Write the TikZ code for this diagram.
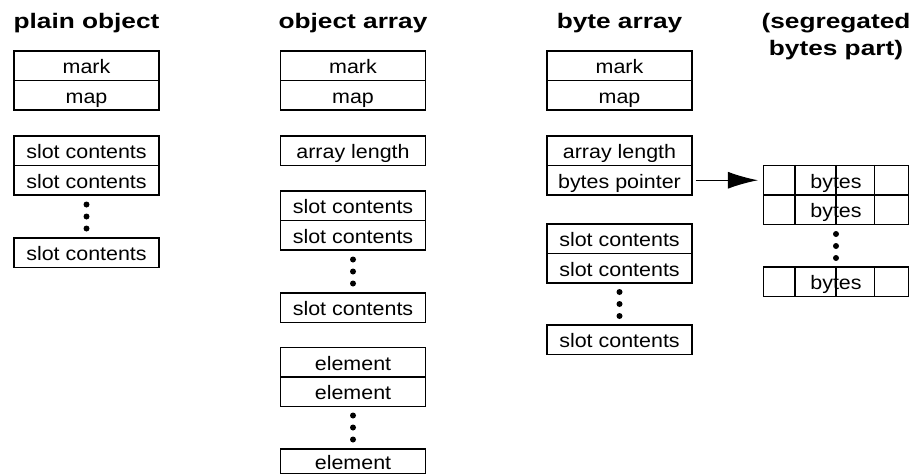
\documentclass[tikz,border=0pt]{standalone}
\usepackage{fontspec}
\usetikzlibrary{arrows.meta}
\newfontfamily\cellfont[FakeStretch=1.1]{Liberation Sans}
\newfontfamily\headfont[FakeStretch=1.25]{Liberation Sans}

\begin{document}
\begin{tikzpicture}[x=1pt, y=-1pt]
    \tikzstyle{cell_style} = [draw=black, line width=1.1pt, minimum width=145pt, minimum height=29.5pt, inner sep=0pt, text height=16pt, text depth=0pt, font=\cellfont\fontsize{19.5}{23}\selectfont]
    \tikzstyle{head_style} = [anchor=base, align=center, inner sep=0pt, font=\headfont\bfseries\fontsize{21}{27}\selectfont]
    \tikzstyle{arrow_style} = [-{Latex[length=30pt, width=17pt]}, black, line width=1.1pt]
    \tikzstyle{split_style} = [black, line width=1.1pt]

    \useasboundingbox (0,0) rectangle (914,474);

    % titles
    \node[head_style] (t1) at (86.5,28) {plain object};
    \node[head_style] (t2) at (353,28) {object array};
    \node[head_style] (t3) at (619.5,28) {byte array};
    \node[head_style] (t4) at (836,55) {(segregated\\bytes part)};

    % plain object
    \node[cell_style] (a1) at (86.5,65.75) {mark};
    \node[cell_style] (a2) at (86.5,95.25) {map};
    \node[cell_style] (a3) at (86.5,150.75) {slot contents};
    \node[cell_style] (a4) at (86.5,180.25) {slot contents};
    \node[cell_style] (a5) at (86.5,252.75) {slot contents};
    \fill (86.5,204.5) circle (3pt) (86.5,216.5) circle (3pt) (86.5,228.5) circle (3pt);

    % object array
    \node[cell_style] (b1) at (353,65.75) {mark};
    \node[cell_style] (b2) at (353,95.25) {map};
    \node[cell_style] (b3) at (353,150.75) {array length};
    \node[cell_style] (b4) at (353,205.75) {slot contents};
    \node[cell_style] (b5) at (353,235.25) {slot contents};
    \node[cell_style] (b6) at (353,307.75) {slot contents};
    \node[cell_style] (b7) at (353,362.25) {element};
    \node[cell_style] (b8) at (353,391.75) {element};
    \node[cell_style, minimum height=25pt] (b9) at (353,461.5) {element};
    \fill (353,259.5) circle (3pt) (353,271.5) circle (3pt) (353,283.5) circle (3pt);
    \fill (353,415.5) circle (3pt) (353,427.5) circle (3pt) (353,439.5) circle (3pt);

    % byte array
    \node[cell_style] (c1) at (619.5,65.75) {mark};
    \node[cell_style] (c2) at (619.5,95.25) {map};
    \node[cell_style] (c3) at (619.5,150.75) {array length};
    \node[cell_style] (c4) at (619.5,180.25) {bytes pointer};
    \node[cell_style] (c5) at (619.5,238.75) {slot contents};
    \node[cell_style] (c6) at (619.5,268.25) {slot contents};
    \node[cell_style] (c7) at (619.5,339.75) {slot contents};
    \fill (619.5,292) circle (3pt) (619.5,304) circle (3pt) (619.5,316) circle (3pt);

    % segregated bytes
    \node[cell_style] (d1) at (836,180.25) {bytes};
    \node[cell_style] (d2) at (836,209.75) {bytes};
    \node[cell_style] (d3) at (836,281.75) {bytes};
    \fill (836,234) circle (3pt) (836,246) circle (3pt) (836,258) circle (3pt);

    \draw[split_style] ([xshift=32pt]d1.north west) -- ([xshift=32pt]d1.south west);
    \draw[split_style] (d1.north) -- (d1.south);
    \draw[split_style] ([xshift=-34.5pt]d1.north east) -- ([xshift=-34.5pt]d1.south east);
    \draw[split_style] ([xshift=32pt]d2.north west) -- ([xshift=32pt]d2.south west);
    \draw[split_style] (d2.north) -- (d2.south);
    \draw[split_style] ([xshift=-34.5pt]d2.north east) -- ([xshift=-34.5pt]d2.south east);
    \draw[split_style] ([xshift=32pt]d3.north west) -- ([xshift=32pt]d3.south west);
    \draw[split_style] (d3.north) -- (d3.south);
    \draw[split_style] ([xshift=-34.5pt]d3.north east) -- ([xshift=-34.5pt]d3.south east);

    \draw[arrow_style, shorten <=3pt, shorten >=5pt] (c4.east) -- (c4.east -| d1.west);
\end{tikzpicture}
\end{document}
